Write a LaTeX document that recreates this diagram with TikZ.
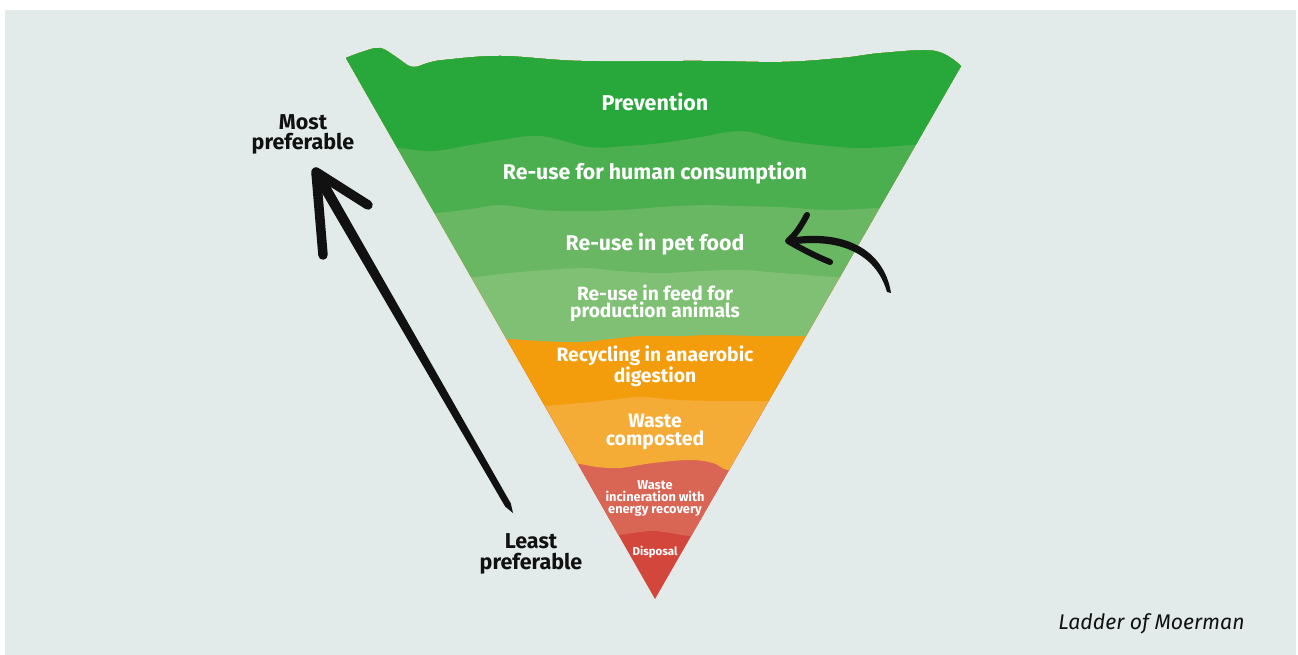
\documentclass[tikz,border=0pt]{standalone}
\usepackage{fontspec}
\setmainfont{Fira Sans}
\definecolor{bgc}{HTML}{E2EBE9}
\definecolor{bA}{HTML}{28A73A}
\definecolor{bB}{HTML}{4BAE4F}
\definecolor{bC}{HTML}{69B663}
\definecolor{bD}{HTML}{80C074}
\definecolor{bE}{HTML}{F39C0C}
\definecolor{bF}{HTML}{F5AC37}
\definecolor{bG}{HTML}{D96555}
\definecolor{bH}{HTML}{D3463C}
\definecolor{ink}{HTML}{111111}
\newcommand\myfs[2]{\fontsize{#1}{#2}\selectfont}
\begin{document}
\begin{tikzpicture}[x=1pt,y=-1pt,
  lab/.style={text=white, inner sep=0pt, anchor=base, align=center},
  side/.style={text=ink, inner sep=0pt, anchor=base, align=center},
  ink stroke/.style={ink, line cap=round, line join=round}]
\useasboundingbox (0,0) rectangle (1298,655);
\fill[bgc] (5,10) rectangle (1296,655);
\begin{scope}
\clip plot[smooth,tension=0.6] coordinates {(346,58) (362,52) (380,48) (396,57) (412,67) (428,63) (444,60) (501,56) (581,61) (702,61) (782,62) (842,58) (882,53) (935,51) (961,66)} -- (655,599) -- cycle;
\fill[bH] (200,0) rectangle (1100,650);
\fill[bG] (200,0) -- (200,536) -- plot[smooth,tension=0.6] coordinates {(590,536) (618,535) (650,531) (670,533) (690,536) (720,536)} -- (1100,536) -- (1100,0) -- cycle;
\fill[bF] (200,0) -- (200,465) -- plot[smooth,tension=0.6] coordinates {(550,465) (578,464) (597,467) (620,468) (653,463) (690,460) (713,463) (728,470) (760,471)} -- (1100,471) -- (1100,0) -- cycle;
\fill[bE] (200,0) -- (200,407) -- plot[smooth,tension=0.6] coordinates {(515,407) (543,406) (580,403) (610,400) (640,397) (680,400) (720,401) (767,401) (800,401)} -- (1100,401) -- (1100,0) -- cycle;
\fill[bD] (200,0) -- (200,340) -- plot[smooth,tension=0.6] coordinates {(480,340) (507,339) (540,341) (580,342) (610,339) (640,336) (680,336) (713,335) (760,336) (805,336) (840,336)} -- (1100,336) -- (1100,0) -- cycle;
\fill[bC] (200,0) -- (200,278) -- plot[smooth,tension=0.6] coordinates {(440,278) (473,277) (520,272) (581,268) (620,271) (661,273) (700,271) (742,270) (782,273) (838,277) (870,277)} -- (1100,277) -- (1100,0) -- cycle;
\fill[bB] (200,0) -- (200,214) -- plot[smooth,tension=0.6] coordinates {(400,214) (436,213) (470,209) (501,205) (541,210) (580,211) (621,210) (660,207) (702,205) (740,206) (782,207) (830,210) (878,208) (910,208)} -- (1100,208) -- (1100,0) -- cycle;
\fill[bA] (200,0) -- (200,149) -- plot[smooth,tension=0.6] coordinates {(370,149) (398,148) (432,151) (470,145) (501,140) (541,136) (589,147) (625,146) (661,143) (700,137) (742,131) (782,140) (820,145) (862,148) (912,145) (940,144)} -- (1100,144) -- (1100,0) -- cycle;
\end{scope}
% labels in the funnel
\node[lab, font=\bfseries\myfs{21.5}{21.5}] (prev) at (655,111) {Prevention};
\node[lab, font=\bfseries\myfs{21.3}{21.3}] (human) at (655,180) {Re-use for human consumption};
\node[lab, font=\bfseries\myfs{21.3}{21.3}] (pet) at (655,250) {Re-use in pet food};
\node[lab, font=\bfseries\myfs{19.2}{17.5}] (feed) at (655,317.5) {Re-use in feed for\\production animals};
\node[lab, font=\bfseries\myfs{19.3}{17.7}] (anaer) at (655,382.7) {Recycling in anaerobic\\digestion};
\node[lab, font=\bfseries\myfs{19.4}{17.5}] (comp) at (655,445) {Waste\\composted};
\node[lab, font=\bfseries\myfs{12.8}{11.7}] (incin) at (655,513.3) {Waste\\incineration with\\energy recovery};
\node[lab, font=\bfseries\myfs{11.5}{11.5}] (disp) at (655,555) {Disposal};
% side labels
\node[side, font=\bfseries\myfs{21.5}{20.7}] (most) at (303,150) {Most\\preferable};
\node[side, font=\bfseries\myfs{21.5}{20.3}] (least) at (531,569) {Least\\preferable};
\node[text=ink, inner sep=0pt, anchor=base, font=\itshape\myfs{21.2}{21.2}] (title) at (1151.5,629) {Ladder of Moerman};
% big arrow
\coordinate (bigtip) at (316,172);
\coordinate (bigtail) at (513,513);
\fill[ink] (320.6,169.3) -- (510.8,503.4) -- (bigtail) -- (505.2,506.6) -- (311.4,174.7) -- cycle;
\draw[ink stroke, line width=9.5pt] (323,255) -- (bigtip) -- (368,205);
% curved arrow
\coordinate (ctip) at (788,241);
\coordinate (ctail) at (889,293);
\fill[ink] (891,293) .. controls (884,248) and (842,229) .. (789,238) -- (789,245) .. controls (840,237) and (876,254) .. (887,292) -- cycle;
\draw[ink stroke, line width=6pt] (807,215) .. controls (800,228) and (795,235) .. (ctip) .. controls (800,248) and (815,256) .. (830,262);
\end{tikzpicture}
\end{document}
